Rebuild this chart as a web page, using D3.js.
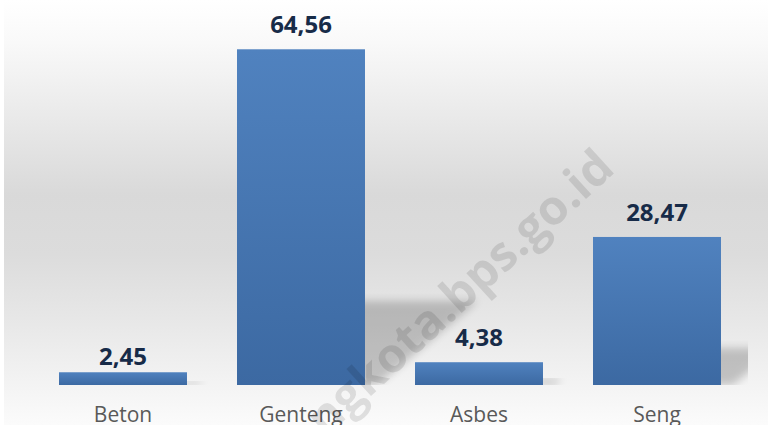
<!DOCTYPE html>
<html>
<head>
<meta charset="utf-8">
<script src="https://cdn.jsdelivr.net/npm/d3@7"></script>
<style>
  html, body { margin: 0; padding: 0; background: #ffffff; }
  svg { display: block; }
</style>
</head>
<body>
<svg id="chart" width="768" height="425"></svg>
<script>
// ---- data ----
const categories = ["Beton", "Genteng", "Asbes", "Seng"];
const values = [2.45, 64.56, 4.38, 28.47];
const valueLabels = ["2,45", "64,56", "4,38", "28,47"];
const watermarkText = "ngkota.bps.go.id";

// ---- layout / style config ----
const W = 768, H = 425;
const baseline = 385;
const labelNudge = { Beton: 9 }; // label placed closer to the short bar, as in the original

const svg = d3.select("#chart");
const defs = svg.append("defs");

// background gradient
const bg = defs.append("linearGradient").attr("id", "bgGrad")
  .attr("x1", 0).attr("y1", 0).attr("x2", 0).attr("y2", 1);
[[0, "#ffffff"], [0.1, "#f9f9f9"], [0.46, "#d9d9d9"], [0.6, "#dcdcdc"],
 [0.75, "#e7e7e7"], [0.9, "#f3f3f3"], [1, "#fbfbfb"]]
  .forEach(([o, c]) => bg.append("stop").attr("offset", o).attr("stop-color", c));

// bar gradient
const bar = defs.append("linearGradient").attr("id", "barGrad")
  .attr("x1", 0).attr("y1", 0).attr("x2", 0).attr("y2", 1);
[[0, "#5082bf"], [1, "#3c69a2"]]
  .forEach(([o, c]) => bar.append("stop").attr("offset", o).attr("stop-color", c));

// shadow blur filter
const f = defs.append("filter").attr("id", "blur")
  .attr("x", "-20%").attr("y", "-20%").attr("width", "140%").attr("height", "140%");
f.append("feGaussianBlur").attr("stdDeviation", 4);

defs.append("clipPath").attr("id", "plotClip")
  .append("rect").attr("x", 4).attr("y", 0).attr("width", 744).attr("height", baseline);

svg.append("rect").attr("x", 4).attr("y", 0).attr("width", W - 4).attr("height", H)
  .attr("fill", "url(#bgGrad)");

// scales
const x = d3.scaleBand().domain(categories).range([34, 746])
  .paddingInner(0.281).paddingOuter(0.1405);
const y = d3.scaleLinear().domain([0, 70]).range([baseline, 21]);

const data = categories.map((c, i) => ({ c, v: values[i], label: valueLabels[i] }));

// perspective shadows
svg.append("g").attr("clip-path", "url(#plotClip)")
  .selectAll("path").data(data).join("path")
  .attr("d", d => {
    const x0 = x(d.c), x1 = x0 + x.bandwidth();
    const h = baseline - y(d.v);
    const sh = 0.25 * h, sk = 0.3 * h;
    return `M${x0 + 6},${baseline} L${x1 + 12},${baseline} L${x1 + 12 + sk},${baseline - sh} L${x0 + 6 + sk},${baseline - sh} Z`;
  })
  .attr("fill", "#000").attr("opacity", 0.2).attr("filter", "url(#blur)");

// bars
svg.append("g").selectAll("rect").data(data).join("rect")
  .attr("x", d => x(d.c))
  .attr("y", d => y(d.v))
  .attr("width", x.bandwidth())
  .attr("height", d => baseline - y(d.v))
  .attr("fill", "url(#barGrad)");

// value labels
svg.append("g").selectAll("text").data(data).join("text")
  .attr("x", d => x(d.c) + x.bandwidth() / 2)
  .attr("y", d => y(d.v) - 16 + (labelNudge[d.c] || 0))
  .attr("text-anchor", "middle")
  .attr("font-family", "'Open Sans', sans-serif")
  .attr("font-weight", 700)
  .attr("font-size", 24)
  .attr("fill", "#172b48")
  .text(d => d.label);

// category axis labels
const xAxis = d3.axisBottom(x).tickSize(0).tickPadding(0);
const ax = svg.append("g").attr("transform", `translate(0,${baseline})`).call(xAxis);
ax.select(".domain").remove();
ax.selectAll("text")
  .attr("y", 37).attr("dy", 0)
  .attr("font-family", "'Open Sans', sans-serif")
  .attr("font-size", 21)
  .attr("fill", "#595959");

// watermark
svg.append("text")
  .attr("transform", "translate(462,295) rotate(-42.5)")
  .attr("text-anchor", "middle")
  .attr("dy", "0.27em")
  .attr("font-family", "'Open Sans', sans-serif")
  .attr("font-weight", 700)
  .attr("font-size", 48)
  .attr("fill", "#000")
  .attr("opacity", 0.1)
  .text(watermarkText);
</script>
</body>
</html>
